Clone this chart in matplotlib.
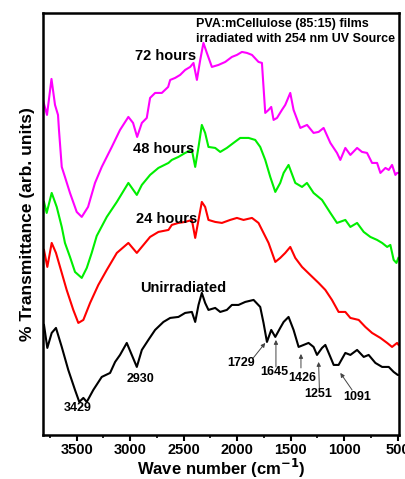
import matplotlib
matplotlib.use('Agg')
import matplotlib.pyplot as plt
from matplotlib.ticker import MultipleLocator

plt.rcParams['font.family'] = ['Liberation Sans', 'DejaVu Sans']
plt.rcParams['font.weight'] = 'bold'

# wavenumber (cm-1) / transmittance (arb. units)
wn_72 = [3816, 3778, 3736, 3703, 3675, 3666, 3640, 3610, 3563, 3500, 3453, 3394, 3329, 3266,
         3172, 3095, 3017, 2973, 2935, 2891, 2845, 2814, 2767, 2704, 2645, 2626, 2580, 2533,
         2486, 2439, 2408, 2376, 2345, 2315, 2283, 2236, 2174, 2111, 2049, 2002, 1955, 1908,
         1861, 1800, 1768, 1737, 1706, 1681, 1659, 1627, 1581, 1550, 1503, 1472, 1409, 1346,
         1285, 1238, 1191, 1128, 1066, 1035, 988, 941, 878, 832, 785, 738, 691, 660, 613, 582,
         551, 520, 504, 490]
t_72 = [335, 320, 356, 330, 320, 305, 268, 258, 242, 223, 218, 228, 252, 268,
        288, 305, 318, 312, 298, 312, 317, 337, 342, 342, 348, 355, 357, 360,
        365, 368, 372, 355, 375, 392, 382, 368, 370, 373, 378, 380, 383, 382,
        380, 373, 372, 322, 325, 328, 315, 317, 325, 330, 342, 325, 307, 310,
        302, 303, 307, 292, 282, 275, 287, 280, 287, 283, 282, 272, 272, 262, 267, 265,
        270, 260, 262, 262]

wn_48 = [3806, 3781, 3734, 3687, 3640, 3610, 3563, 3516, 3453, 3406, 3360, 3313, 3219, 3125,
         3017, 2938, 2891, 2814, 2736, 2642, 2611, 2549, 2486, 2423, 2392, 2361, 2330, 2299,
         2268, 2205, 2158, 2096, 2034, 1971, 1893, 1831, 1784, 1737, 1690, 1643, 1597, 1565,
         1519, 1456, 1393, 1347, 1285, 1206, 1128, 1066, 988, 941, 878, 816, 754, 691, 644,
         597, 567, 536, 510, 492]
t_48 = [233, 222, 242, 228, 208, 192, 178, 163, 157, 167, 182, 199, 218, 233,
        252, 240, 250, 260, 267, 272, 275, 278, 282, 285, 268, 288, 310, 302,
        288, 287, 283, 287, 292, 297, 297, 295, 288, 275, 258, 243, 252, 262,
        270, 252, 248, 252, 242, 235, 222, 212, 215, 208, 212, 203, 198, 195, 192,
        188, 190, 175, 172, 177]

wn_24 = [3806, 3775, 3734, 3694, 3656, 3594, 3532, 3485, 3438, 3375, 3298, 3219, 3125, 3017,
         2938, 2876, 2814, 2736, 2642, 2611, 2549, 2486, 2423, 2392, 2361, 2330, 2299, 2268,
         2205, 2142, 2065, 2002, 1940, 1861, 1800, 1753, 1706, 1643, 1597, 1550, 1503, 1456,
         1393, 1316, 1238, 1175, 1113, 1051, 988, 941, 863, 801, 738, 660, 597, 551, 504, 490]
t_24 = [185, 168, 192, 182, 168, 145, 125, 112, 115, 132, 150, 165, 182, 192,
        182, 190, 198, 203, 205, 210, 212, 213, 215, 197, 215, 233, 228, 215,
        213, 212, 215, 217, 215, 217, 212, 202, 192, 173, 177, 182, 188, 177,
        168, 160, 152, 145, 135, 123, 123, 117, 115, 108, 102, 97, 92, 88, 92, 90]

wn_0 = [3806, 3775, 3734, 3694, 3640, 3579, 3516, 3476, 3438, 3406, 3345, 3266, 3188, 3141,
        3095, 3032, 2985, 2938, 2891, 2830, 2767, 2689, 2626, 2549, 2486, 2423, 2392, 2361,
        2330, 2299, 2268, 2205, 2158, 2096, 2049, 1987, 1924, 1846, 1784, 1753, 1721, 1681,
        1643, 1597, 1565, 1519, 1472, 1425, 1378, 1332, 1285, 1253, 1206, 1175, 1128, 1097,
        1051, 988, 941, 878, 816, 770, 707, 644, 582, 536, 498, 490]
t_0 = [110, 87, 102, 107, 88, 65, 45, 33, 37, 33, 45, 58, 62, 73,
       80, 92, 80, 68, 85, 95, 105, 113, 117, 118, 122, 123, 113, 130,
       142, 132, 125, 127, 123, 125, 130, 130, 133, 135, 128, 112, 93, 105,
       98, 107, 113, 118, 105, 88, 90, 92, 88, 80, 87, 90, 78, 70,
       70, 82, 80, 85, 78, 80, 72, 68, 68, 63, 60, 60]

series = [('72 hours', wn_72, t_72, '#ff00ff'),
          ('48 hours', wn_48, t_48, '#00ee00'),
          ('24 hours', wn_24, t_24, '#ff0000'),
          ('Unirradiated', wn_0, t_0, '#000000')]

# label positions (wavenumber, transmittance)
label_pos = {'72 hours': (2667, 379), '48 hours': (2689, 286),
             '24 hours': (2657, 216), 'Unirradiated': (2502, 147)}

peak_labels = ['3429', '2930', '1729', '1645', '1426', '1251', '1091']
peak_text = [(3491, 27), (2901, 56), (1964, 72), (1653, 63), (1393, 57), (1238, 41), (873, 38)]
peak_tail = [None, None, (1849, 77), (1637, 68), (1403, 67), (1231, 47), (925, 45)]
peak_head = [None, None, (1737, 92), (1637, 95), (1403, 81), (1238, 73), (1035, 62)]

fig = plt.figure(figsize=(4.06, 4.79), dpi=100)
ax = fig.add_axes([0.106, 0.092, 0.876, 0.881])

for name, x, y, c in series:
    ax.plot(x, y, color=c, lw=1.5, solid_joinstyle='round')
    lx, ly = label_pos[name]
    ax.text(lx, ly, name, ha='center', va='center', fontsize=10.5, fontweight='bold')

for lab, tp, tail, head in zip(peak_labels, peak_text, peak_tail, peak_head):
    ax.text(tp[0], tp[1], lab, ha='center', va='center', fontsize=9, fontweight='bold')
    if head is not None:
        ax.annotate('', xy=head, xytext=tail,
                    arrowprops=dict(arrowstyle='-|>', lw=0.7, color='#444444',
                                    mutation_scale=6, shrinkA=0, shrinkB=0))

ax.text(2386, 411, 'PVA:mCellulose (85:15) films', ha='left', va='center',
        fontsize=9, fontweight='bold')
ax.text(2386, 396, 'irradiated with 254 nm UV Source', ha='left', va='center',
        fontsize=9, fontweight='bold')

ax.set_xlim(3815, 489)
ax.set_ylim(0, 422)
ax.xaxis.set_major_locator(MultipleLocator(500))
ax.xaxis.set_minor_locator(MultipleLocator(250))
ax.set_yticks([])
ax.tick_params(axis='x', which='major', direction='out', length=4, width=1.5,
               labelsize=10.5, pad=2, top=False)
ax.tick_params(axis='x', which='minor', direction='out', length=2.5, width=1.2, top=False)
for lbl in ax.get_xticklabels():
    lbl.set_fontweight('bold')
for s in ax.spines.values():
    s.set_linewidth(1.8)

ax.set_xlabel('Wave number (cm$^{\\mathbf{-1}}$)', fontsize=12, fontweight='bold', labelpad=0)
ax.set_ylabel('% Transmittance (arb. units)', fontsize=12.5, fontweight='bold', labelpad=6)

fig.savefig('out.png', dpi=100)
